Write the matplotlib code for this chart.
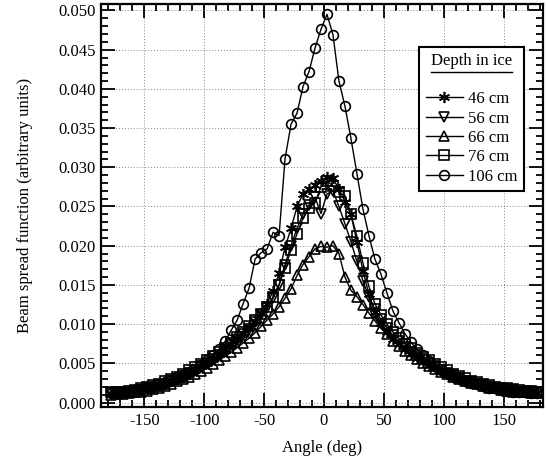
import matplotlib
matplotlib.use("Agg")
import matplotlib.pyplot as plt
from matplotlib.ticker import MultipleLocator, FormatStrFormatter
from matplotlib.lines import Line2D

plt.rcParams['font.family'] = ['Liberation Serif', 'DejaVu Serif']
plt.rcParams['axes.unicode_minus'] = False

angles = [-177.5, -172.5, -167.5, -162.5, -157.5, -152.5, -147.5, -142.5, -137.5, -132.5,
          -127.5, -122.5, -117.5, -112.5, -107.5, -102.5, -97.5, -92.5, -87.5, -82.5,
          -77.5, -72.5, -67.5, -62.5, -57.5, -52.5, -47.5, -42.5, -37.5, -32.5,
          -27.5, -22.5, -17.5, -12.5, -7.5, -2.5, 2.5, 7.5, 12.5, 17.5,
          22.5, 27.5, 32.5, 37.5, 42.5, 47.5, 52.5, 57.5, 62.5, 67.5,
          72.5, 77.5, 82.5, 87.5, 92.5, 97.5, 102.5, 107.5, 112.5, 117.5,
          122.5, 127.5, 132.5, 137.5, 142.5, 147.5, 152.5, 157.5, 162.5, 167.5,
          172.5, 177.5]

bsf_46 = [0.0011, 0.0012, 0.0012, 0.0013, 0.0014, 0.0016, 0.0017, 0.0019, 0.0021, 0.0024,
          0.0027, 0.0030, 0.0033, 0.0037, 0.0041, 0.0046, 0.0051, 0.0056, 0.0062, 0.0068,
          0.0075, 0.0082, 0.0089, 0.0096, 0.0104, 0.0114, 0.0126, 0.0142, 0.0165, 0.0198,
          0.0222, 0.0250, 0.0266, 0.0272, 0.0277, 0.0283, 0.0288, 0.0286, 0.0272, 0.0256,
          0.0240, 0.0205, 0.0168, 0.0138, 0.0116, 0.0101, 0.0090, 0.0081, 0.0074, 0.0068,
          0.0062, 0.0057, 0.0052, 0.0048, 0.0044, 0.0040, 0.0036, 0.0033, 0.0030, 0.0027,
          0.0025, 0.0023, 0.0021, 0.0019, 0.0018, 0.0016, 0.0015, 0.0014, 0.0014, 0.0013,
          0.0013, 0.0012]

bsf_56 = [0.0012, 0.0012, 0.0013, 0.0013, 0.0015, 0.0016, 0.0018, 0.0019, 0.0022, 0.0024,
          0.0027, 0.0030, 0.0034, 0.0038, 0.0042, 0.0046, 0.0051, 0.0056, 0.0061, 0.0067,
          0.0073, 0.0080, 0.0087, 0.0094, 0.0103, 0.0112, 0.0121, 0.0133, 0.0150, 0.0176,
          0.0200, 0.0222, 0.0240, 0.0252, 0.0262, 0.0241, 0.0266, 0.0270, 0.0250, 0.0228,
          0.0205, 0.0180, 0.0155, 0.0135, 0.0119, 0.0106, 0.0095, 0.0086, 0.0078, 0.0071,
          0.0065, 0.0060, 0.0055, 0.0050, 0.0046, 0.0042, 0.0038, 0.0035, 0.0031, 0.0028,
          0.0026, 0.0024, 0.0022, 0.0020, 0.0018, 0.0017, 0.0016, 0.0015, 0.0014, 0.0014,
          0.0013, 0.0013]

bsf_66 = [0.0010, 0.0011, 0.0011, 0.0012, 0.0013, 0.0014, 0.0015, 0.0017, 0.0019, 0.0021,
          0.0024, 0.0027, 0.0030, 0.0033, 0.0036, 0.0040, 0.0044, 0.0049, 0.0054, 0.0059,
          0.0064, 0.0070, 0.0076, 0.0082, 0.0089, 0.0097, 0.0105, 0.0113, 0.0122, 0.0133,
          0.0145, 0.0162, 0.0176, 0.0186, 0.0196, 0.0199, 0.0198, 0.0200, 0.0190, 0.0160,
          0.0143, 0.0135, 0.0125, 0.0114, 0.0104, 0.0095, 0.0087, 0.0079, 0.0072, 0.0066,
          0.0061, 0.0056, 0.0051, 0.0047, 0.0043, 0.0039, 0.0036, 0.0033, 0.0030, 0.0027,
          0.0025, 0.0023, 0.0021, 0.0019, 0.0018, 0.0016, 0.0015, 0.0014, 0.0013, 0.0013,
          0.0012, 0.0012]

bsf_76 = [0.0013, 0.0013, 0.0014, 0.0015, 0.0016, 0.0018, 0.0020, 0.0022, 0.0024, 0.0027,
          0.0030, 0.0033, 0.0037, 0.0041, 0.0045, 0.0049, 0.0054, 0.0059, 0.0064, 0.0070,
          0.0076, 0.0083, 0.0090, 0.0097, 0.0105, 0.0113, 0.0122, 0.0134, 0.0150, 0.0172,
          0.0195, 0.0215, 0.0235, 0.0248, 0.0255, 0.0275, 0.0283, 0.0276, 0.0268, 0.0264,
          0.0240, 0.0212, 0.0178, 0.0148, 0.0126, 0.0112, 0.0100, 0.0090, 0.0082, 0.0075,
          0.0069, 0.0063, 0.0058, 0.0054, 0.0049, 0.0045, 0.0041, 0.0037, 0.0034, 0.0031,
          0.0028, 0.0026, 0.0024, 0.0022, 0.0020, 0.0019, 0.0018, 0.0017, 0.0016, 0.0015,
          0.0015, 0.0014]

bsf_106 = [0.0012, 0.0012, 0.0013, 0.0014, 0.0016, 0.0017, 0.0019, 0.0021, 0.0023, 0.0026,
           0.0029, 0.0032, 0.0035, 0.0039, 0.0043, 0.0048, 0.0054, 0.0060, 0.0068, 0.0078,
           0.0092, 0.0105, 0.0126, 0.0146, 0.0183, 0.0191, 0.0196, 0.0217, 0.0213, 0.0311,
           0.0355, 0.0369, 0.0403, 0.0422, 0.0452, 0.0476, 0.0495, 0.0469, 0.0410, 0.0378,
           0.0337, 0.0292, 0.0247, 0.0213, 0.0183, 0.0164, 0.0140, 0.0117, 0.0102, 0.0088,
           0.0077, 0.0068, 0.0060, 0.0053, 0.0047, 0.0042, 0.0038, 0.0034, 0.0031, 0.0028,
           0.0025, 0.0023, 0.0021, 0.0019, 0.0018, 0.0016, 0.0015, 0.0014, 0.0013, 0.0013,
           0.0012, 0.0012]

series_labels = ['46 cm', '56 cm', '66 cm', '76 cm', '106 cm']
series_values = [bsf_46, bsf_56, bsf_66, bsf_76, bsf_106]
series_markers = [(6, 2, 0), 'v', '^', 's', 'o']
series_msize = [8, 6.5, 6.5, 6.5, 7]

fig = plt.figure(figsize=(5.47, 4.67), dpi=100)
ax = fig.add_axes([0.185, 0.128, 0.808, 0.863])

for lab, vals, mk, ms in zip(series_labels, series_values, series_markers, series_msize):
    ax.plot(angles, vals, color='black', lw=1.0, marker=mk, markersize=ms,
            markerfacecolor='none', markeredgecolor='black', markeredgewidth=1.2,
            label=lab)

ax.set_xlim(-186, 183)
ax.set_ylim(-0.0006, 0.0508)
ax.xaxis.set_major_locator(MultipleLocator(50))
ax.xaxis.set_minor_locator(MultipleLocator(10))
ax.yaxis.set_major_locator(MultipleLocator(0.005))
ax.yaxis.set_minor_locator(MultipleLocator(0.001))
ax.yaxis.set_major_formatter(FormatStrFormatter('%.3f'))

ax.tick_params(which='both', direction='in', top=True, right=True, width=1.3, colors='black')
ax.tick_params(which='major', length=10, labelsize=12, pad=4)
ax.tick_params(which='minor', length=5)
for s in ax.spines.values():
    s.set_linewidth(1.6)

ax.grid(True, which='major', linestyle=(0, (1, 2)), color='#888888', lw=0.7)
ax.set_axisbelow(True)

ax.set_xlabel('Angle (deg)', fontsize=12, labelpad=8)
ax.set_ylabel('Beam spread function (arbitrary units)', fontsize=12, labelpad=18)

leg = ax.legend(loc='upper right', bbox_to_anchor=(0.975, 0.915),
                title='Depth in ice\n',
                fontsize=12, title_fontsize=12, frameon=True, fancybox=False,
                edgecolor='black', framealpha=1, handlelength=2.2,
                handletextpad=0.3, labelspacing=0.2, borderpad=0.4)
leg.get_frame().set_linewidth(1.5)

# underline the legend title
fig.canvas.draw()
title = leg.get_title()
bb = title.get_window_extent(fig.canvas.get_renderer())
inv = fig.transFigure.inverted()
line_h = bb.height / 2.0
y_pix = bb.y1 - line_h - 1
(x0, y0) = inv.transform((bb.x0, y_pix))
(x1, _) = inv.transform((bb.x1, y_pix))
fig.add_artist(Line2D([x0, x1], [y0, y0], transform=fig.transFigure,
                      color='black', lw=1.0, zorder=10))

fig.savefig('out.png', dpi=100)
